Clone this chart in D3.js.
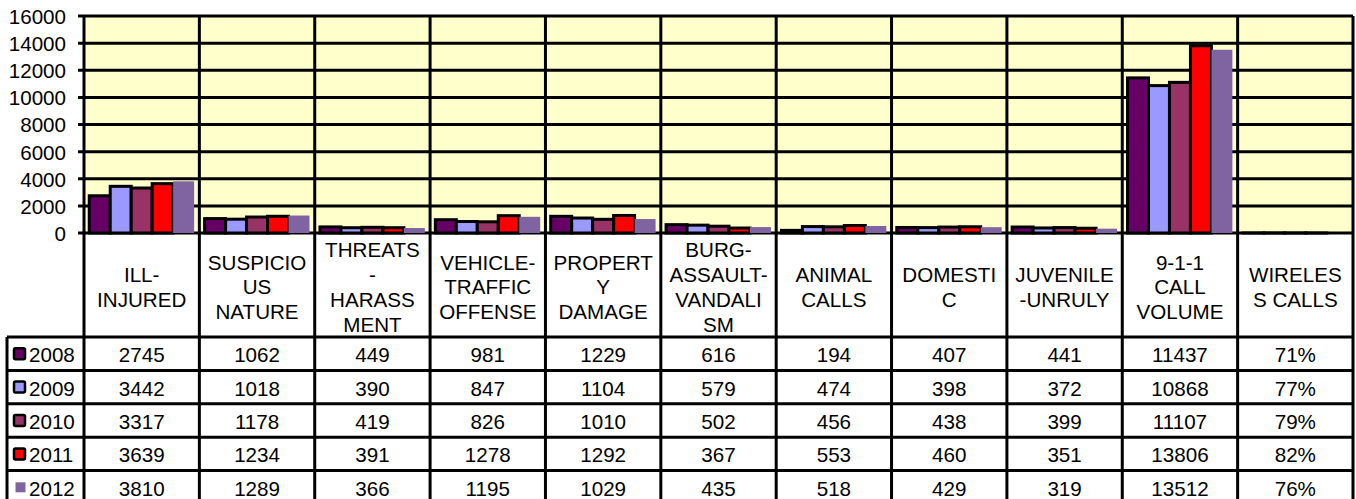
<!DOCTYPE html>
<html><head><meta charset="utf-8">
<script src="https://cdn.jsdelivr.net/npm/d3@7"></script>
<style>
html,body{margin:0;padding:0;background:#fff;}
svg{display:block;font-family:"Liberation Sans",Arial,sans-serif;}
</style></head>
<body><svg id="chart" width="1356" height="499"></svg>
<script>
const categories = ["ILL-INJURED","SUSPICIOUS NATURE","THREATS-HARASSMENT","VEHICLE-TRAFFIC OFFENSE","PROPERTY DAMAGE","BURG-ASSAULT-VANDALISM","ANIMAL CALLS","DOMESTIC","JUVENILE-UNRULY","9-1-1 CALL VOLUME","WIRELESS CALLS"];
const categoryLines = [["ILL-","INJURED"],["SUSPICIO","US","NATURE"],["THREATS","-","HARASS","MENT"],["VEHICLE-","TRAFFIC","OFFENSE"],["PROPERT","Y","DAMAGE"],["BURG-","ASSAULT-","VANDALI","SM"],["ANIMAL","CALLS"],["DOMESTI","C"],["JUVENILE","-UNRULY"],["9-1-1","CALL","VOLUME"],["WIRELES","S CALLS"]];
const years = ["2008","2009","2010","2011","2012"];
const values2008 = [2745,1062,449,981,1229,616,194,407,441,11437,0.71];
const values2009 = [3442,1018,390,847,1104,579,474,398,372,10868,0.77];
const values2010 = [3317,1178,419,826,1010,502,456,438,399,11107,0.79];
const values2011 = [3639,1234,391,1278,1292,367,553,460,351,13806,0.82];
const values2012 = [3810,1289,366,1195,1029,435,518,429,319,13512,0.76];
const seriesValues = [values2008,values2009,values2010,values2011,values2012];
const percentCategory = "WIRELESS CALLS";
const yTicks = [0,2000,4000,6000,8000,10000,12000,14000,16000];
const colors = ["#660066","#9999FF","#993366","#FF0000","#8064A2"];
const outlined = [true,true,true,true,false];

const svg = d3.select("#chart");
const L = 84, R = 1353, T = 16, B = 233;
const headerBottom = 337, rowH = 33.4, legendLeft = 7;

const x0 = d3.scaleBand().domain(categories).range([L,R]).paddingInner(0).paddingOuter(0);
const x1 = d3.scaleBand().domain(years).range([0,x0.bandwidth()]).paddingInner(0).paddingOuter(0.25);
const y = d3.scaleLinear().domain([0,16000]).range([B,T]);

// plot background
svg.append("rect").attr("x",L).attr("y",T).attr("width",R-L).attr("height",B-T).attr("fill","#FFFFCC");

// horizontal gridlines
svg.append("g").selectAll("line").data(yTicks).join("line")
  .attr("x1",L-6).attr("x2",R).attr("y1",d=>y(d)).attr("y2",d=>y(d))
  .attr("stroke","#000").attr("stroke-width",3);

// bars
const bars = svg.append("g");
seriesValues.forEach((vals,si)=>{
  bars.selectAll(null).data(vals.map((v,i)=>({v,c:categories[i]}))).join("rect")
    .attr("x",d=>x0(d.c)+x1(years[si]))
    .attr("width",x1.bandwidth())
    .attr("y",d=>y(d.v))
    .attr("height",d=>Math.max(0,B-y(d.v)))
    .attr("fill",colors[si])
    .attr("stroke",outlined[si]?"#000":"none")
    .attr("stroke-width",3);
});

const fs = 20.6, lh = 24.8;

// y axis labels
const axis = d3.axisLeft(y).tickValues(yTicks).tickSize(0).tickPadding(0).tickFormat(d3.format("d"));
const ag = svg.append("g").attr("transform",`translate(${L-18},0)`).call(axis);
ag.select(".domain").remove();
ag.selectAll("text").attr("font-size",fs).attr("fill","#000").attr("font-family","Liberation Sans, Arial, sans-serif").attr("dy","0.36em");

// table: header text
const hdr = svg.append("g");
categoryLines.forEach((lines,i)=>{
  const cx = x0(categories[i]) + x0.bandwidth()/2;
  const cy = (B + headerBottom)/2 + 2;
  const startY = cy - (lines.length-1)*lh/2;
  lines.forEach((t,j)=>{
    hdr.append("text").attr("x",cx).attr("y",startY + j*lh).attr("dy","0.36em")
      .attr("text-anchor","middle").attr("font-size",fs).text(t);
  });
});

// table: data rows
const fmt = (v,c)=> c===percentCategory ? Math.round(v*100)+"%" : String(v);
const tb = svg.append("g");
seriesValues.forEach((vals,si)=>{
  const ry = headerBottom + si*rowH;
  const cy = ry + rowH/2 + 1;
  vals.forEach((v,i)=>{
    tb.append("text").attr("x",x0(categories[i])+x0.bandwidth()/2).attr("y",cy).attr("dy","0.36em")
      .attr("text-anchor","middle").attr("font-size",fs).text(fmt(v,categories[i]));
  });
  // legend key
  const ks = outlined[si] ? 11 : 10;
  tb.append("rect").attr("x",outlined[si]?14:15.5).attr("y",cy-ks/2-1).attr("width",ks).attr("height",ks)
    .attr("fill",colors[si]).attr("stroke",outlined[si]?"#000":"none").attr("stroke-width",2.5).attr("rx",outlined[si]?1.5:0);
  tb.append("text").attr("x",29).attr("y",cy).attr("dy","0.36em").attr("font-size",fs).text(years[si]);
});

// table lines
const lines = svg.append("g").attr("stroke","#000").attr("stroke-width",3);
const rowYs = d3.range(years.length+1).map(k=>headerBottom + k*rowH);
rowYs.forEach(yy=>{
  lines.append("line").attr("x1",legendLeft).attr("x2",R).attr("y1",yy).attr("y2",yy);
});
const bounds = categories.map(c=>x0(c)).concat([R]);
bounds.forEach(xx=>{
  lines.append("line").attr("x1",xx).attr("x2",xx).attr("y1",T).attr("y2",510);
});
lines.append("line").attr("x1",legendLeft).attr("x2",legendLeft).attr("y1",headerBottom).attr("y2",510);
</script>
</body></html>
